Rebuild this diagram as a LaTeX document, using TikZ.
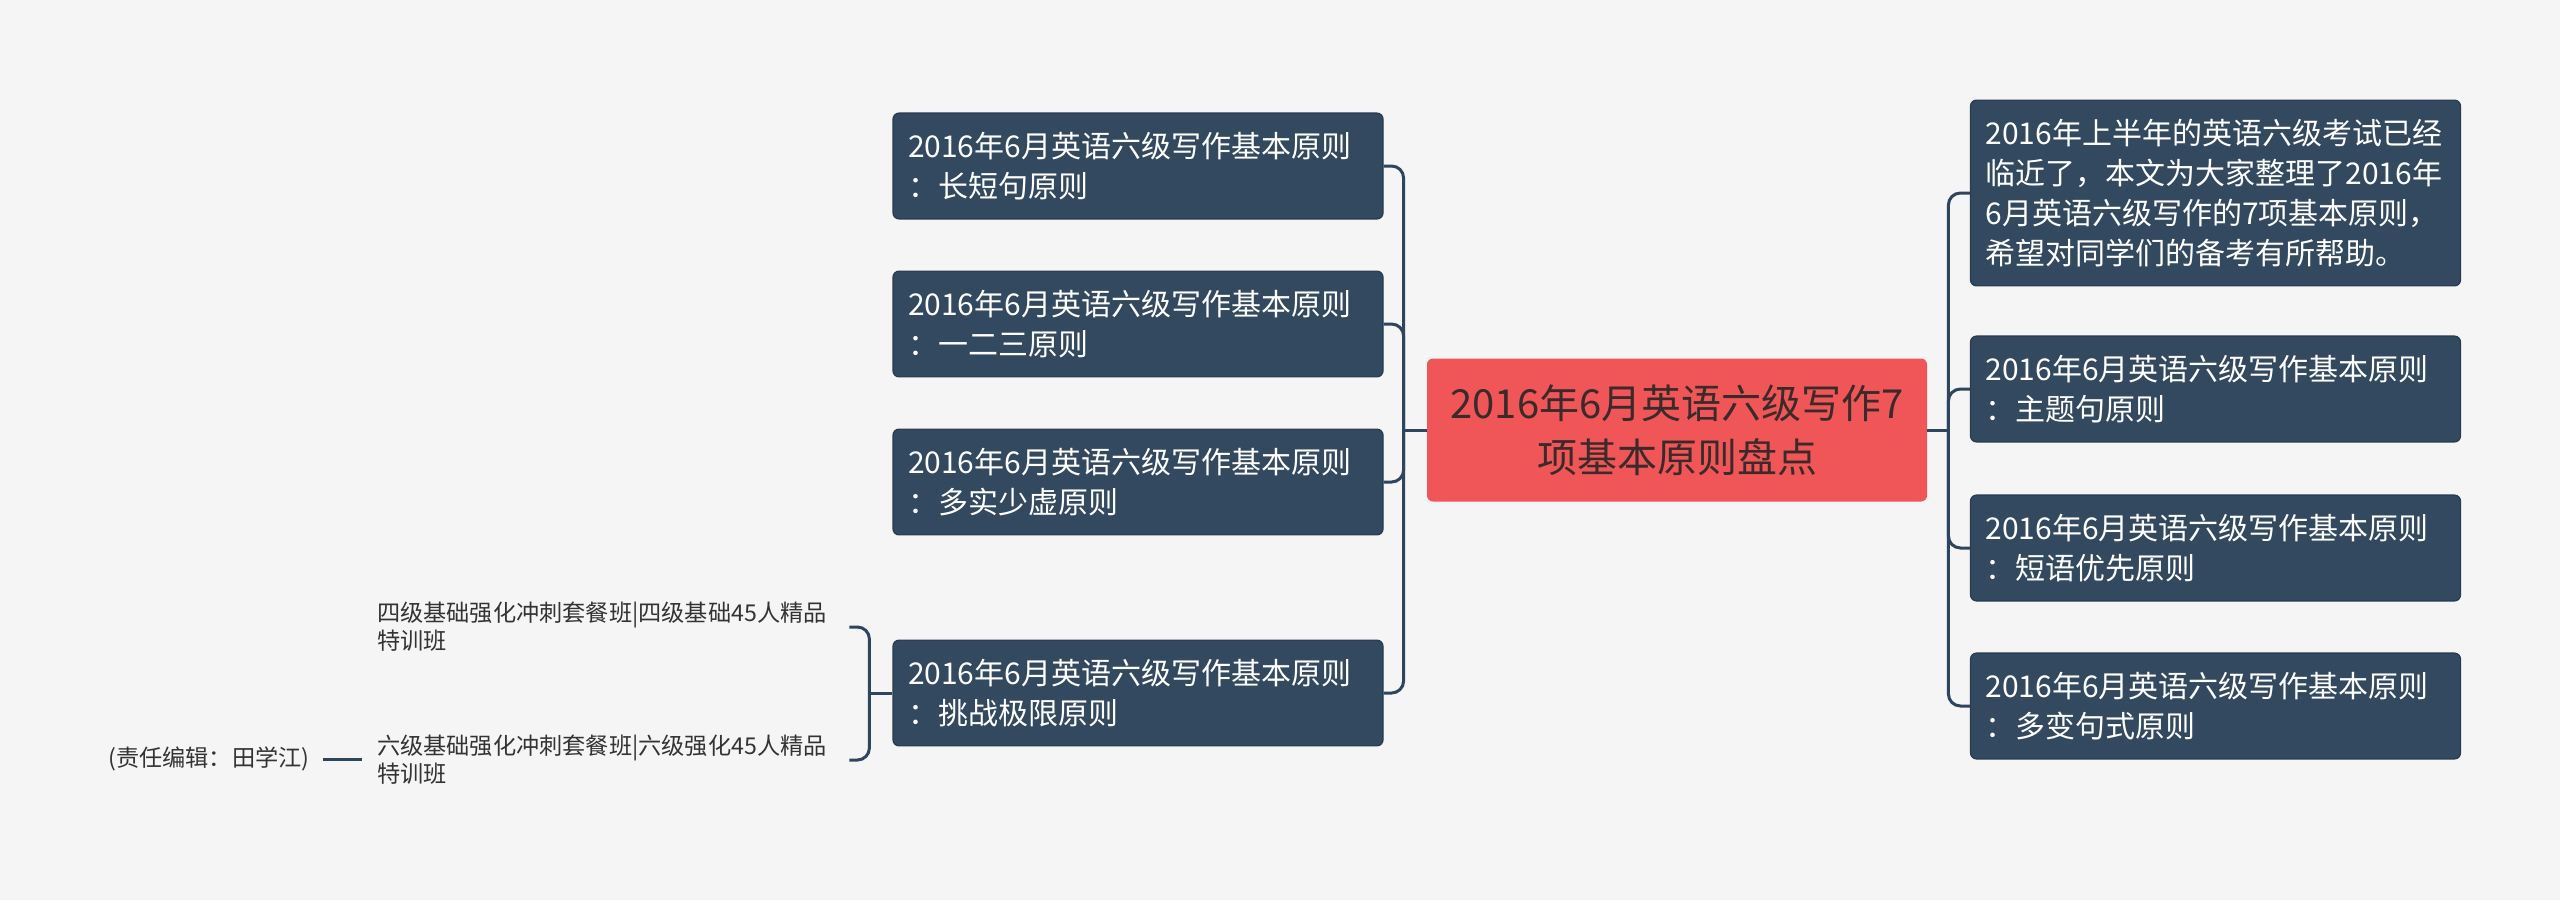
\documentclass[tikz,border=0pt]{standalone}
\usepackage{fontspec}
\setmainfont{Noto Sans CJK SC}
\usetikzlibrary{positioning}

\definecolor{hgcol}{HTML}{F5F5F5}
\definecolor{boxcol}{HTML}{32495F}
\definecolor{randcol}{HTML}{283B4F}
\definecolor{astcol}{HTML}{2E4560}
\definecolor{themacol}{HTML}{F05657}
\definecolor{thematext}{HTML}{3A2A2A}
\definecolor{blatttext}{HTML}{333333}

\tikzset{
  thema/.style={fill=themacol, rounded corners=3pt, text=thematext, align=center,
    text width=240pt, minimum width=250pt, minimum height=71.5pt,
    font=\fontsize{20pt}{27pt}\selectfont},
  punkt/.style={fill=boxcol, draw=randcol, line width=0.6pt, rounded corners=3pt,
    text=white, align=left, text width=230pt, inner xsep=7.5pt, inner ysep=9.5pt,
    font=\fontsize{15pt}{20pt}\selectfont},
  blatt/.style={text=blatttext, align=left, text width=228.5pt, inner xsep=7.5pt,
    font=\fontsize{11.6pt}{14pt}\selectfont},
  ast/.style={draw=astcol, line width=1.5pt, rounded corners=6pt},
}

\begin{document}
\begin{tikzpicture}

\fill[hgcol] (0pt,0pt) rectangle (1280pt,-450pt);
\useasboundingbox (0pt,0pt) rectangle (1280pt,-450pt);

%% Mitte %%%%%%%%%%%%%%%%%%%%%%%%%%%%%%%%%%%%%%
\node[thema] (thema) at (838.5pt,-215pt) {2016年6月英语六级写作7\\项基本原则盘点};

%% Inhalte links %%%%%%%%%%%%%%%%%%%%%%%%%%%%%%
\node[punkt] (l1) at (569pt,-83pt) {2016年6月英语六级写作基本原则\\：长短句原则};

%% Labels
\node[punkt] (l2) at (569pt,-162pt) {2016年6月英语六级写作基本原则\\：一二三原则};

%% Labels
\node[punkt] (l3) at (569pt,-241pt) {2016年6月英语六级写作基本原则\\：多实少虚原则};

\node[punkt] (l4) at (569pt,-346.5pt) {2016年6月英语六级写作基本原则\\：挑战极限原则};

%% Inhalte rechts %%%%%%%%%%%%%%%%%%%%%%%%%%%%%
\node[punkt] (r1) at (1107.75pt,-96.5pt) {2016年上半年的英语六级考试已经\\临近了，本文为大家整理了2016年\\6月英语六级写作的7项基本原则，\\希望对同学们的备考有所帮助。};

%% Labels
\node[punkt] (r2) at (1107.75pt,-194.5pt) {2016年6月英语六级写作基本原则\\：主题句原则};

%% Labels
\node[punkt] (r3) at (1107.75pt,-274pt) {2016年6月英语六级写作基本原则\\：短语优先原则};

\node[punkt] (r4) at (1107.75pt,-353pt) {2016年6月英语六级写作基本原则\\：多变句式原则};

%% Kurse %%%%%%%%%%%%%%%%%%%%%%%%%%%%%%%%%%%%%%
\node[blatt] (b1) at (302.75pt,-313.5pt) {四级基础强化冲刺套餐班|四级基础45人精品\\特训班};

\node[blatt] (b2) at (302.75pt,-380pt) {六级基础强化冲刺套餐班|六级强化45人精品\\特训班};

\node[blatt, text width=, anchor=east, inner xsep=6.5pt] (red) at (161.5pt,-379.5pt) {(责任编辑：田学江)};

%% Aeste %%%%%%%%%%%%%%%%%%%%%%%%%%%%%%%%%%%%%%
\coordinate[left=11.5pt of thema.west] (lknoten);
\coordinate[right=10.5pt of thema.east] (rknoten);
\coordinate[left=11.5pt of l4.west] (bknoten);

\draw[ast] (thema.west) -- (lknoten);
\draw[ast] (lknoten) |- (l1.east);
\draw[ast] (lknoten) |- (l2.east);
\draw[ast] (lknoten) |- (l3.east);
\draw[ast] (lknoten) |- (l4.east);

\draw[ast] (thema.east) -- (rknoten);
\draw[ast] (rknoten) |- (r1.west);
\draw[ast] (rknoten) |- (r2.west);
\draw[ast] (rknoten) |- (r3.west);
\draw[ast] (rknoten) |- (r4.west);

\draw[ast] (l4.west) -- (bknoten);
\draw[ast] (bknoten) |- (b1.east);
\draw[ast] (bknoten) |- (b2.east);

\draw[ast] (b2.west |- red.east) -- (red.east);

\end{tikzpicture}
\end{document}
